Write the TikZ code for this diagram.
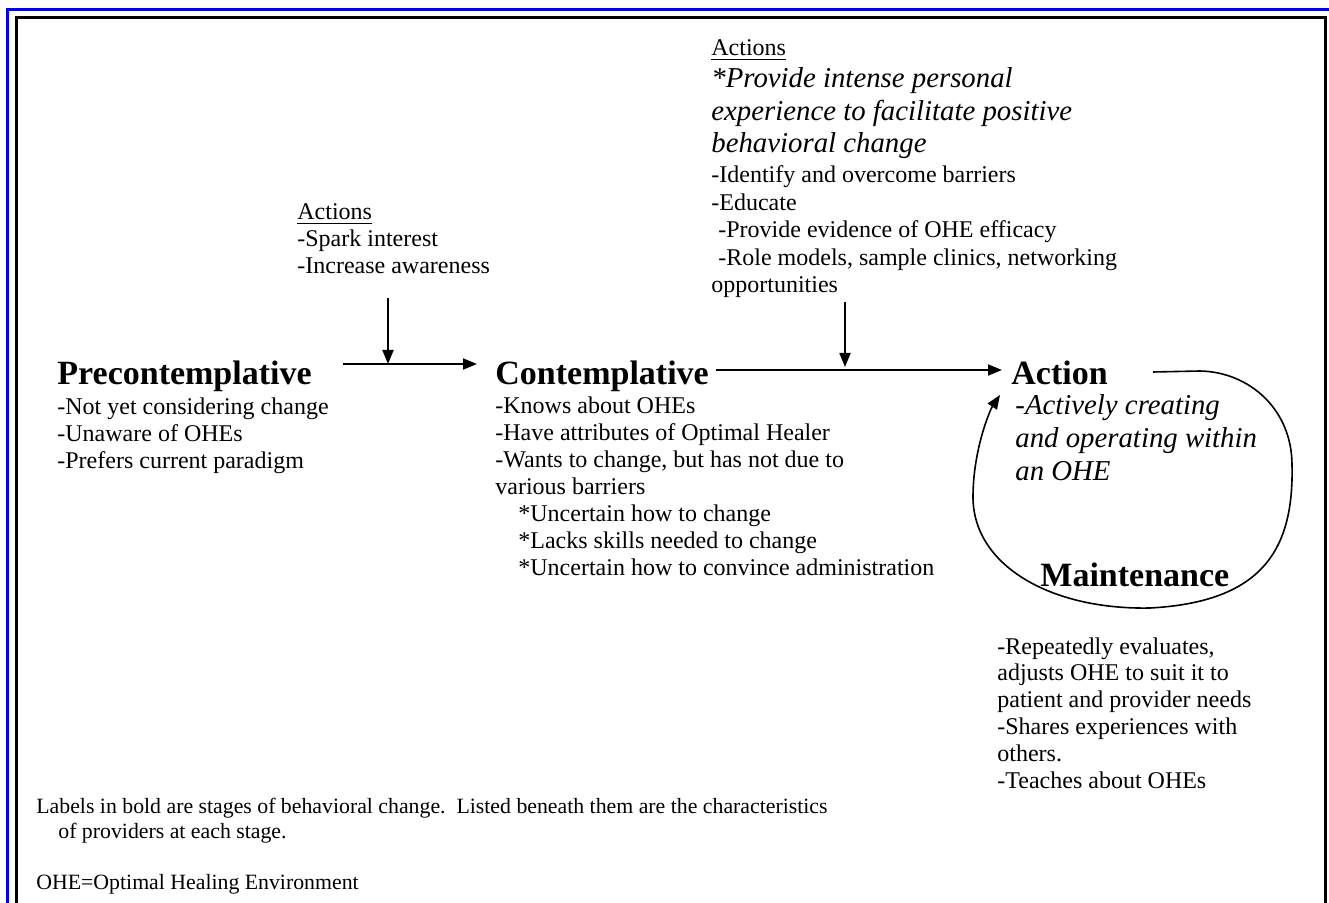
\documentclass[tikz,border=0pt]{standalone}
\usepackage{fontspec}
\setmainfont{Liberation Serif}
\usetikzlibrary{arrows.meta}
\newcommand\blk[2]{\vtop{\baselineskip=#1\relax\lineskiplimit=-20pt\halign{##\hfil\cr#2\crcr}}}
\begin{document}
\begin{tikzpicture}[x=0.5pt,y=-0.5pt,
  txt/.style={anchor=base west, inner sep=0pt, font=\fontsize{12}{13.5}\selectfont},
  head/.style={anchor=base west, inner sep=0pt, font=\fontsize{17}{20}\selectfont\bfseries},
  ital/.style={anchor=base west, inner sep=0pt, font=\fontsize{14.4}{16.5}\selectfont\itshape},
  foot/.style={anchor=base west, inner sep=0pt, font=\fontsize{10.9}{12.5}\selectfont},
  conn/.style={line width=0.9pt, -{Triangle[length=7pt,width=5.5pt]}},
  loopc/.style={line width=0.8pt, -{Triangle[length=7pt,width=5.5pt]}},
  frameb/.style={blue, line width=1.5pt},
  framek/.style={black, line width=1.5pt}]
\useasboundingbox (0,0) rectangle (1329,903);
% frame
\draw[frameb] (7,903) -- (7,10) -- (1329,10);
\draw[framek] (16.5,903) -- (16.5,18) -- (1325,18) -- (1325,903);

% stages
\node[head] (pre) at (57,385) {Precontemplative};
\node[txt] (prel) at (57,415) {\blk{13.5pt}{-Not yet considering change\cr
-Unaware of OHEs\cr
-Prefers current paradigm}};

\node[head] (con) at (495,385) {Contemplative};
\node[txt] (conl) at (495,414) {\blk{13.5pt}{-Knows about OHEs\cr
-Have attributes of Optimal Healer\cr
-Wants to change, but has not due to\cr
various barriers\cr
\hspace*{11.5pt}*Uncertain how to change\cr
\hspace*{11.5pt}*Lacks skills needed to change\cr
\hspace*{11.5pt}*Uncertain how to convince administration}};

\node[head] (act) at (1011,385) {Action};
\node[ital] (actl) at (1015,415) {\blk{16.5pt}{-Actively creating\cr
and operating within\cr
an OHE}};

\node[head] (mnt) at (1040,587) {Maintenance};
\node[txt] (mntl) at (997,654) {\blk{13.4pt}{-Repeatedly evaluates,\cr
adjusts OHE to suit it to\cr
patient and provider needs\cr
-Shares experiences with\cr
others.\cr
-Teaches about OHEs}};

% actions
\node[txt] (a1) at (297,220) {\blk{13.5pt}{\underline{Actions}\cr
-Spark interest\cr
-Increase awareness}};

\node[txt] (a2h) at (711,56) {\underline{Actions}};
\node[ital] (a2i) at (711,88) {\blk{16.25pt}{*Provide intense personal\cr
experience to facilitate positive\cr
behavioral change}};
\node[txt] (a2l) at (711,183) {\blk{13.75pt}{-Identify and overcome barriers\cr
-Educate\cr
\hspace*{3.5pt}-Provide evidence of OHE efficacy\cr
\hspace*{3.5pt}-Role models, sample clinics, networking\cr
opportunities}};

% footer
\node[foot] (f1) at (36,813) {\blk{12.5pt}{Labels in bold are stages of behavioral change.\ \ Listed beneath them are the characteristics\cr
\hspace*{11pt}of providers at each stage.}};
\node[foot] (f2) at (36,889) {OHE=Optimal Healing Environment};

% connectors
\coordinate (h1s) at (343,364);
\coordinate (h1e) at (477,364);
\coordinate (v1s) at (388,298);
\coordinate (v1e) at (388,364);
\draw[conn] (h1s) -- (h1e);
\draw[conn] (v1s) -- (v1e);

\coordinate (h2s) at (716,370);
\coordinate (h2e) at (1002,370);
\coordinate (v2s) at (845,302);
\coordinate (v2e) at (845,367);
\draw[conn] (h2s) -- (h2e);
\draw[conn] (v2s) -- (v2e);

\coordinate (ls) at (1153,372);
\coordinate (lt) at (1000,395);
\draw[loopc] (ls) -- (1200,371) .. controls (1250,372) and (1292,410) .. (1292,465)
  .. controls (1294,550) and (1262,602) .. (1150,608)
  .. controls (1050,610) and (973,565) .. (973,497)
  .. controls (973,450) and (990,410) .. (lt);
\end{tikzpicture}
\end{document}
